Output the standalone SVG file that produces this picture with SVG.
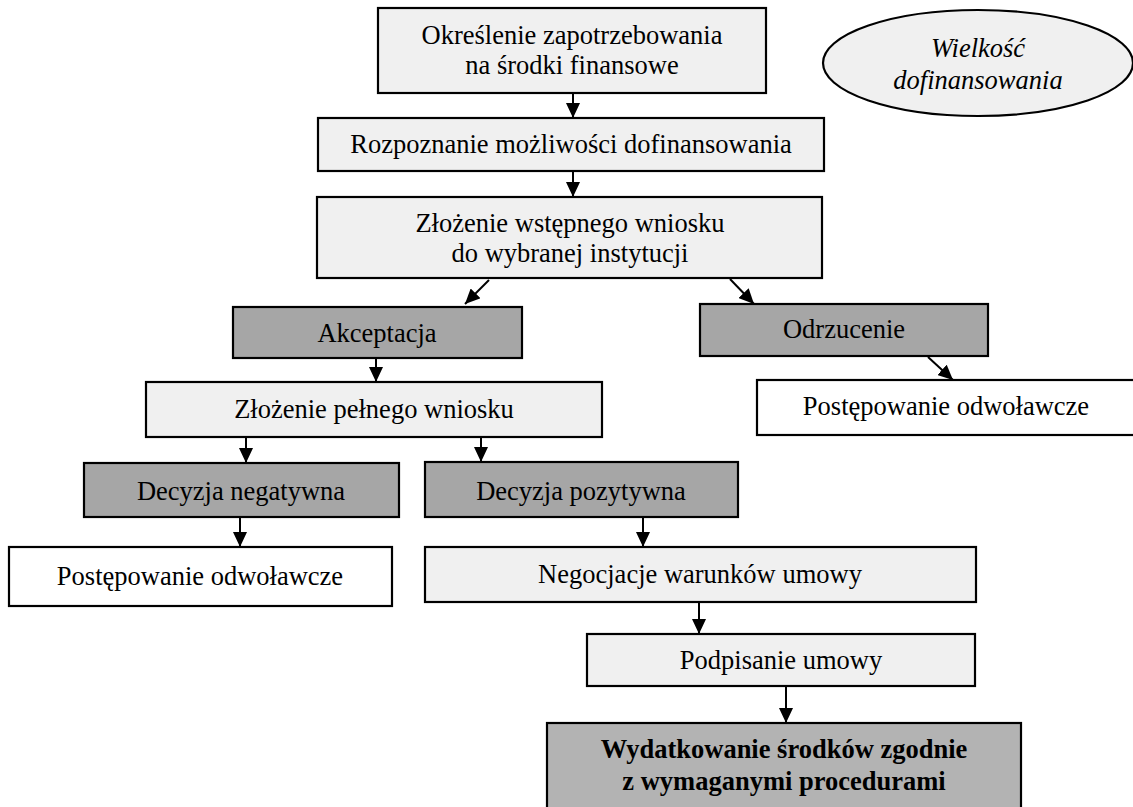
<svg xmlns="http://www.w3.org/2000/svg" width="1133" height="807" viewBox="0 0 1133 807">
<style>
  .box{stroke:#000;stroke-width:2.2}
  .light{fill:#f0f0f0}
  .dark{fill:#a6a6a6}
  .white{fill:#fff}
  .final{fill:#b3b3b3}
  text{font-family:"Liberation Serif","Times New Roman",serif;font-size:26.5px;fill:#000;text-anchor:middle}
  .b{font-weight:bold}
  .i{font-style:italic}
  .c{stroke:#000;stroke-width:2;fill:none;marker-end:url(#ah)}
</style>
<defs>
  <marker id="ah" markerUnits="userSpaceOnUse" markerWidth="15" markerHeight="14" refX="15" refY="7" orient="auto">
    <path d="M0,0 L15,7 L0,14 z" fill="#000"/>
  </marker>
</defs>
<rect width="1133" height="807" fill="#fff"/>

<g id="n1"><rect class="box light" x="378" y="8" width="388" height="85"/>
<text x="572" y="44">Określenie zapotrzebowania</text><text x="572" y="74">na środki finansowe</text></g>

<g id="n_ellipse"><ellipse class="box light" cx="978" cy="63" rx="155" ry="53"/>
<text class="i" x="978" y="57">Wielkość</text><text class="i" x="978" y="89">dofinansowania</text></g>

<g id="n2"><rect class="box light" x="318" y="118" width="506" height="53"/>
<text x="571" y="153">Rozpoznanie możliwości dofinansowania</text></g>

<g id="n3"><rect class="box light" x="317" y="197" width="505" height="81"/>
<text x="570" y="232">Złożenie wstępnego wniosku</text><text x="570" y="262">do wybranej instytucji</text></g>

<g id="n_akc"><rect class="box dark" x="233" y="307" width="289" height="51"/>
<text x="377" y="342">Akceptacja</text></g>

<g id="n_odrz"><rect class="box dark" x="700" y="304" width="288" height="52"/>
<text x="844" y="338">Odrzucenie</text></g>

<g id="n_post_r"><rect class="box white" x="757" y="380" width="380" height="55"/>
<text x="946" y="415">Postępowanie odwoławcze</text></g>

<g id="n_pelny"><rect class="box light" x="146" y="382" width="456" height="55"/>
<text x="374" y="418">Złożenie pełnego wniosku</text></g>

<g id="n_neg"><rect class="box dark" x="84" y="463" width="315" height="54"/>
<text x="241" y="500">Decyzja negatywna</text></g>

<g id="n_poz"><rect class="box dark" x="425" y="462" width="313" height="55"/>
<text x="581" y="500">Decyzja pozytywna</text></g>

<g id="n_post_l"><rect class="box white" x="9" y="547" width="383" height="59"/>
<text x="200" y="585">Postępowanie odwoławcze</text></g>

<g id="n_negoc"><rect class="box light" x="425" y="547" width="551" height="55"/>
<text x="700" y="583">Negocjacje warunków umowy</text></g>

<g id="n_podp"><rect class="box light" x="587" y="634" width="388" height="52"/>
<text x="781" y="669">Podpisanie umowy</text></g>

<g id="n_final"><rect class="box final" x="547" y="723" width="474" height="110"/>
<text class="b" x="784" y="758">Wydatkowanie środków zgodnie</text><text class="b" x="784" y="790">z wymaganymi procedurami</text></g>

<g id="connectors">
  <line class="c" x1="573" y1="93" x2="573" y2="118"/>
  <line class="c" x1="573" y1="171" x2="573" y2="197"/>
  <line class="c" x1="489" y1="280" x2="465" y2="304"/>
  <line class="c" x1="730" y1="279" x2="754" y2="304"/>
  <line class="c" x1="376" y1="358" x2="376" y2="382"/>
  <line class="c" x1="928" y1="357" x2="953" y2="380"/>
  <line class="c" x1="246" y1="437" x2="246" y2="463"/>
  <line class="c" x1="481" y1="437" x2="481" y2="462"/>
  <line class="c" x1="240" y1="517" x2="240" y2="547"/>
  <line class="c" x1="643" y1="517" x2="643" y2="547"/>
  <line class="c" x1="699" y1="602" x2="699" y2="634"/>
  <line class="c" x1="786" y1="686" x2="786" y2="723"/>
</g>
</svg>
